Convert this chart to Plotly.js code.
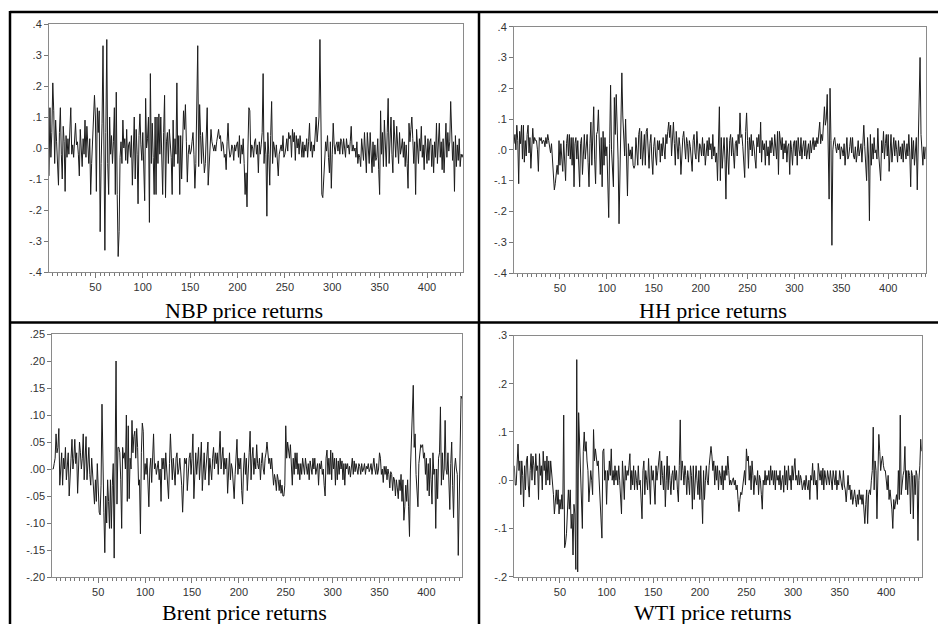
<!DOCTYPE html>
<html>
<head>
<meta charset="utf-8">
<script src="https://cdn.plot.ly/plotly-3.0.1.min.js"></script>
<style>
html,body{margin:0;padding:0;background:#fff;}
#chart{width:938px;height:624px;}
</style>
</head>
<body>
<div id="chart"></div>
<script>
// ---- Data ----
const nbpReturns = [
-.09,.13,-.03,.05,.21,.12,-.05,.09,.02,-.06,
-.12,.05,.13,-.02,-.10,.07,.02,-.14,.04,-.03,
.03,-.02,.06,.13,-.02,.01,-.03,.04,.08,.01,
.02,-.02,-.09,.06,-.01,-.06,.03,-.02,.09,-.03,
.07,-.02,-.05,.03,-.15,-.05,.02,.10,.17,.10,
-.14,.13,.05,.12,-.27,-.05,.08,.33,-.05,-.33,
.05,.35,-.05,-.15,.10,-.02,.04,-.05,.02,.13,
-.15,.18,-.15,-.35,-.27,-.03,.02,-.05,.09,.00,
.03,-.04,.06,-.05,.01,.02,-.03,.04,-.12,.03,
.10,-.10,.06,-.02,-.18,.04,.11,.01,-.04,.05,
-.05,-.17,.16,.00,.03,.10,-.24,.24,-.05,.08,
-.03,-.15,.10,-.15,.10,-.05,.11,-.02,.10,-.05,
-.15,.05,.17,-.16,.02,.05,-.05,.06,.01,-.03,
-.15,.09,-.06,.03,-.02,.21,-.05,.04,-.15,.04,
-.10,.04,.12,.06,.14,.02,-.11,-.02,.01,-.02,
-.01,.02,.05,-.02,-.13,-.05,.10,.33,-.06,.14,
.04,-.05,.05,-.02,-.08,-.05,.03,.13,-.12,-.05,
-.02,.06,.02,.00,-.01,.01,-.01,.02,.04,.06,
.03,.04,-.01,.02,.01,-.03,-.02,-.07,.02,.08,
.00,-.03,-.02,.01,.00,-.04,.01,-.01,.01,.02,
-.03,.04,-.05,.01,-.02,.03,-.05,-.15,-.08,-.19,
.00,.13,.12,-.03,.01,.00,-.03,.02,.03,-.02,
.01,-.08,.02,-.02,.01,.05,.24,-.05,.02,-.02,
-.22,.05,-.02,-.12,.04,.15,-.05,.02,.00,-.03,
.01,-.04,-.09,-.02,.00,.01,-.01,.04,-.03,-.02,
.00,.03,-.01,.05,.03,.04,-.03,.06,.02,.05,
-.04,.04,.00,.03,-.02,.04,.01,-.03,.02,-.03,
.01,-.01,.03,-.03,.02,.08,-.01,.02,-.03,.01,
-.01,.03,.10,.02,.08,.10,.35,.00,-.15,-.16,
-.10,-.02,.02,-.01,.04,-.03,-.08,.02,-.13,-.02,
.08,.01,-.02,.01,.02,-.01,.02,-.02,.03,.02,
-.02,.03,.00,-.03,.03,.00,.01,-.02,.02,.07,
-.01,.01,-.01,.00,-.03,.02,-.05,-.02,-.03,-.06,
.03,-.02,-.04,.05,-.03,-.08,.05,.01,-.05,.05,
-.02,-.08,.02,-.06,.01,-.04,-.03,.03,-.07,-.15,
.12,-.02,.05,-.06,.09,.00,-.06,.05,.16,-.05,
.02,.10,-.02,-.08,.09,.02,-.03,.07,-.01,-.05,
.05,-.02,.00,.03,-.03,.02,-.06,.01,-.05,-.13,
.08,.02,.06,.10,.03,-.05,.02,-.15,.06,-.02,
-.05,.03,-.01,.07,-.03,.01,-.07,.04,-.02,-.05,
.03,-.04,.02,.03,-.06,.01,-.08,.02,-.03,.08,
-.05,.02,.08,-.03,.02,-.07,.03,-.08,.01,.08,
-.03,.05,-.01,.02,.15,.02,-.04,.02,-.14,.04,
-.06,.01,-.04,.03,-.06,-.02,-.03,-.02
];

const hhReturns = [
.02,.05,.00,.08,.03,-.11,.06,.02,.08,-.03,
.08,-.04,.03,-.02,.05,.08,-.01,.04,-.06,.03,
.07,.02,.04,.03,.03,.00,-.07,.04,.03,.04,
.02,.03,.03,.01,.04,.02,.05,.03,.00,-.01,
.02,-.03,-.08,-.13,-.11,-.07,-.05,-.08,.03,-.05,
.02,-.03,-.07,.03,-.02,-.10,.02,.05,-.02,.05,
-.03,.04,-.05,.04,-.12,.02,.04,-.03,.03,-.06,
-.12,.02,.04,-.08,.01,.05,-.03,.02,.05,-.04,
-.12,.02,.09,-.05,.04,.14,-.03,-.11,.05,.06,
.13,-.03,-.08,.04,-.12,.06,-.05,.04,-.02,.01,
-.11,-.22,.02,.21,.00,-.06,-.12,.17,.05,.18,
.10,-.03,-.24,-.05,.03,.25,.11,.04,-.02,.10,
-.05,-.15,.02,-.02,.00,-.03,.01,-.05,-.06,-.05,
.04,-.01,-.05,.05,.07,-.03,.06,-.05,.02,.05,
-.05,.06,.07,.01,-.06,.02,.05,-.03,-.08,.01,
.04,-.02,-.05,.03,.00,.03,-.04,.02,-.02,.04,
.01,-.03,.05,.02,.06,.09,.04,.08,-.02,.03,
.09,.02,-.05,.06,.01,-.03,.04,.01,-.08,.01,
.04,.06,.00,-.03,.04,.02,-.04,.03,.01,-.05,
-.07,.03,.05,-.01,-.03,.06,.00,-.04,.02,.01,
-.02,.04,-.02,.02,-.05,.01,.03,-.02,.04,.00,
.02,-.03,.05,-.02,.01,-.04,-.01,-.10,.05,.14,
-.10,.04,-.06,.02,.04,-.03,-.16,.04,-.02,-.08,
.03,.05,-.02,.04,-.01,-.06,.02,.03,-.02,.05,
.02,.12,.04,.05,.01,-.04,-.09,.06,.12,.03,
-.06,.04,.00,.05,-.02,.03,.01,-.03,-.06,.04,
.01,.05,-.01,.09,-.04,.03,.00,.02,-.05,.03,
-.02,.01,-.05,.03,-.01,.04,.01,-.02,.05,.02,
-.03,.06,-.08,.06,.02,.00,.04,-.03,.02,-.01,
.03,-.04,.01,.02,-.08,.03,.00,-.05,.02,.03,
-.02,.03,-.05,.04,.00,-.02,.04,-.03,.01,.03,
-.02,.03,-.03,.01,.02,-.03,.03,-.01,.02,.04,
.00,.03,.01,.04,.02,.05,.09,.02,.05,.03,
.10,.14,.08,.10,.18,-.05,-.16,.20,.03,-.31,
.00,.03,.04,.01,-.01,.02,.00,.02,-.03,.01,
.00,-.02,.02,-.05,-.01,.04,-.03,-.02,.01,.04,
-.01,.04,-.02,-.03,.01,-.04,-.01,.03,-.02,.00,
.02,-.04,.03,.08,.01,-.05,-.10,.04,-.02,-.23,
.05,-.05,.02,-.03,.04,-.01,.00,-.03,.07,-.02,
-.06,-.10,.03,-.01,.06,-.03,.02,.05,-.02,.05,
-.07,.01,.05,-.04,.00,.04,-.02,.03,.00,-.04,
.03,-.02,.01,-.03,.02,-.04,.03,-.01,-.03,.02,
-.02,.05,-.01,-.12,.04,-.03,.03,-.05,.02,.04,
-.13,.02,.12,.30,.05,-.02,-.05,.01,-.03,.01
];

const brentReturns = [
.00,.00,.01,.02,.065,.03,.04,.075,-.03,.01,
.03,-.03,.02,.00,.04,-.02,.01,.03,-.05,.00,
.02,.055,.00,.02,.055,.01,.03,-.045,.01,.05,
.03,.00,.02,.065,-.02,.03,.06,-.02,.01,.04,
-.01,-.03,.02,-.01,-.04,-.065,-.02,-.06,.01,-.03,
-.08,-.085,-.03,.12,-.02,-.08,-.155,-.05,-.10,-.02,
-.06,-.11,-.02,-.11,-.03,.01,-.165,.00,.20,-.065,
.04,.04,.03,-.02,-.11,.04,.02,.03,.00,.10,
-.06,.08,-.055,.02,.00,.09,.03,.06,.07,.02,
.075,.04,-.03,-.02,-.12,.03,.085,.07,-.02,.01,
-.01,.02,-.03,-.07,.00,.02,-.025,.01,.065,.00,
.01,-.01,.00,.015,-.02,.00,-.06,.02,.00,.02,
-.02,.03,.00,-.03,-.055,.01,.065,.02,-.02,.02,
.00,-.03,.02,.03,-.01,.00,.02,.00,-.03,-.08,
.00,.02,.01,.02,-.04,.00,.02,.03,-.01,.02,
.065,-.055,.00,.03,-.01,.02,.04,-.02,.01,.05,
-.04,.01,.03,-.02,.00,.02,.05,-.03,.02,.00,
-.02,.02,.04,.00,.03,.01,.03,-.01,.02,.07,
.00,.03,.04,-.01,.02,.00,.02,-.045,.01,.03,
-.02,.01,.00,-.03,-.055,-.01,.02,.055,-.01,.02,
.00,.02,-.04,-.065,.00,.03,-.01,.02,-.04,.01,
.03,.07,-.02,.02,.04,-.01,.02,.00,.045,.01,
.00,.02,-.02,.01,.03,.00,-.01,.02,.03,.05,
.03,.01,.02,.00,.02,-.01,-.03,-.01,-.02,-.04,
-.01,-.02,-.04,-.02,-.045,-.03,-.05,-.05,-.03,.08,
.02,.05,.03,.02,.045,.00,-.03,.02,-.01,.03,
.00,.03,-.01,.01,-.02,.01,-.01,.02,.00,-.01,
.02,.00,-.01,.01,-.02,.015,.00,-.01,.02,.00,
.02,-.01,.00,.01,-.03,.01,.00,.015,-.01,.00,
-.03,-.05,.02,.035,-.01,.02,-.01,.035,-.02,.03,
.00,.02,-.03,.02,-.02,.015,-.01,.02,.00,.015,
-.02,.01,-.03,.01,.00,.01,-.01,.005,-.015,.01,
.02,-.01,.015,-.005,.01,.00,-.01,.01,.005,-.01,
.01,-.005,.00,.01,-.01,.005,.00,.01,-.005,.00,
.01,-.01,.005,.02,.00,-.01,.01,-.01,.00,.03,
.02,-.01,.00,-.025,.005,-.01,.005,-.02,.00,-.01,
-.035,-.005,-.01,-.04,-.015,-.02,-.05,-.02,-.035,-.055,
-.02,-.04,-.01,-.06,-.02,-.095,-.07,-.03,-.06,-.02,
-.07,-.125,.00,.05,.07,.155,.04,.065,-.01,-.04,
-.07,.01,.03,.045,.04,.045,.02,.03,-.01,.02,
-.04,.01,-.05,.02,-.02,-.065,.03,-.01,.00,-.11,
.00,-.055,.02,.03,.115,-.03,.03,-.02,.00,.09,
.00,-.01,.03,-.02,-.075,.01,.05,-.03,-.09,.00,
.02,.00,-.01,-.16,-.04,.05,.135,.13
];

const wtiReturns = [
.03,-.01,-.01,.04,.075,.02,.04,-.03,.04,.01,
-.055,.03,-.02,.04,.05,-.01,-.035,.02,.055,.00,
.05,.03,-.01,.055,.02,.03,-.04,.055,.01,.03,
-.02,.06,.02,.04,-.01,.05,.00,.04,-.01,.04,
.02,.00,-.03,-.07,-.04,-.02,-.05,-.02,-.07,-.04,
-.06,-.03,-.06,.135,-.14,-.13,-.11,-.05,-.02,-.06,
-.02,-.10,-.07,-.155,-.05,-.07,-.185,.25,-.19,.14,
.07,.04,-.02,-.10,.06,.10,.06,.08,.04,.02,
-.045,-.02,.02,.00,-.03,.105,.04,.065,.05,.03,
.04,.00,-.05,-.08,-.12,.06,.065,.00,.02,-.05,
.02,.00,.04,.01,.065,.00,.02,-.01,.03,.00,
.02,-.01,.03,.00,-.03,-.07,.04,.00,-.04,.03,
.00,.02,.01,.03,.055,-.02,.02,-.01,.03,-.02,
.02,.00,-.02,.03,-.01,.00,-.05,-.08,.02,.04,
-.03,.02,.00,-.02,.045,.01,-.05,.03,.00,.02,
-.01,-.05,.03,.00,.02,.04,.06,-.01,.04,.01,
-.02,.03,-.055,.00,.05,-.02,.03,.00,-.03,.01,
.02,-.02,.03,.00,.02,-.02,-.045,.03,.125,.00,
.04,.02,-.01,.03,.01,-.03,.02,.00,-.03,.03,
.01,-.06,.03,-.04,.01,.03,.00,-.03,.02,-.04,
.03,-.06,-.09,.02,-.04,.00,.03,.00,-.01,.03,
.05,.07,.05,.02,.04,-.01,.03,.00,.03,-.02,
.02,.01,-.01,.03,-.02,.02,.00,.03,.01,.05,
.02,-.01,.00,-.01,.00,.005,-.01,.00,-.02,-.01,
-.04,-.065,-.04,-.025,-.03,-.01,.00,.02,-.01,.065,
.04,.05,.00,.03,-.02,.04,.01,-.03,.01,.00,
-.01,.02,-.03,.01,.00,-.03,-.06,.00,-.01,.02,
-.01,.01,.00,.02,-.01,.03,.00,.02,-.01,.02,
-.02,.02,.00,.01,-.01,.02,-.02,.00,.01,-.025,
.03,-.01,.02,-.02,.03,.00,.01,-.02,.03,.00,
.02,.045,.00,.01,-.01,.02,-.01,.01,.00,-.02,
-.01,.00,-.02,.01,-.01,-.02,.00,-.04,.01,.00,
.035,-.01,.02,-.01,.00,-.04,.035,.02,.00,.02,
-.01,.025,-.02,.02,.00,-.01,.02,.00,-.01,.02,
.00,-.02,.02,.00,-.01,.02,-.02,.00,-.01,.02,
.00,-.01,-.02,.02,-.01,-.02,-.045,-.01,.01,-.02,
-.01,-.04,-.02,-.05,-.03,-.02,-.04,-.055,-.03,-.05,
-.02,-.04,-.03,-.05,-.03,-.06,-.09,-.05,-.02,-.09,
-.03,-.02,-.03,.00,.02,.11,-.02,.04,.02,-.08,
.03,.095,.06,.02,.04,.05,.03,.02,.02,.00,
-.02,.01,-.04,-.02,-.04,-.06,-.10,-.04,-.06,-.04,
-.03,-.05,.02,-.04,.135,-.03,.00,.01,.02,.07,
-.02,.02,-.03,.02,.01,-.07,.02,.01,-.08,.01,
-.03,.02,.01,-.125,.00,.03,.085,.06
];

const xTickVals = [50,100,150,200,250,300,350,400];
const xTickText = ["50","100","150","200","250","300","350","400"];
const yTickVals4 = [-.4,-.3,-.2,-.1,0,.1,.2,.3,.4];
const yTickText4 = ["-.4","-.3","-.2","-.1",".0",".1",".2",".3",".4"];
const yTickValsBrent = [-.20,-.15,-.10,-.05,0,.05,.10,.15,.20,.25];
const yTickTextBrent = ["-.20","-.15","-.10","-.05",".00",".05",".10",".15",".20",".25"];
const yTickValsWti = [-.2,-.1,0,.1,.2,.3];
const yTickTextWti = ["-.2","-.1",".0",".1",".2",".3"];
const panelTitles = ["NBP price returns","HH price returns","Brent price returns","WTI price returns"];

// ---- Layout helpers ----
const W = 938, H = 624;
const px = v => v / W;
const py = v => 1 - v / H;
const tickFont = {family: "Liberation Sans, Arial, sans-serif", size: 11, color: "#333"};

function xAxis(l, r, n, anchor) {
  return {
    domain: [px(l), px(r)], range: [1, n], anchor: anchor,
    showline: true, mirror: true, linecolor: "#8a8a8a", linewidth: 1,
    showgrid: false, zeroline: false,
    ticks: "outside", ticklen: 5, tickwidth: 1, tickcolor: "#777",
    tickvals: xTickVals, ticktext: xTickText, tickfont: tickFont,
    minor: {dtick: 5, tick0: 0, ticks: "outside", ticklen: 3, tickwidth: 1, tickcolor: "#777", showgrid: false}
  };
}
function yAxis(t, b, range, vals, text, anchor) {
  return {
    domain: [py(b), py(t)], range: range, anchor: anchor,
    showline: true, mirror: true, linecolor: "#8a8a8a", linewidth: 1,
    showgrid: false, zeroline: false,
    ticks: "outside", ticklen: 4, tickwidth: 1, tickcolor: "#777",
    tickvals: vals, ticktext: text, tickfont: tickFont
  };
}
function series(y, xa, ya) {
  return {
    x: y.map((_, i) => i + 1), y: y, xaxis: xa, yaxis: ya,
    type: "scatter", mode: "lines",
    line: {color: "#1c1c1c", width: 1}, hoverinfo: "skip", showlegend: false
  };
}

const data = [
  series(nbpReturns, "x", "y"),
  series(hhReturns, "x2", "y2"),
  series(brentReturns, "x3", "y3"),
  series(wtiReturns, "x4", "y4")
];

const border = (x0, y0, x1, y1) => ({
  type: "line", xref: "paper", yref: "paper",
  x0: px(x0), y0: py(y0), x1: px(x1), y1: py(y1),
  line: {color: "#000", width: 2.5}
});
const caption = (text, cx, cy) => ({
  text: text, xref: "paper", yref: "paper", x: px(cx), y: py(cy),
  xanchor: "center", yanchor: "middle", showarrow: false,
  font: {family: "Liberation Serif, Times New Roman, serif", size: 22, color: "#000"}
});

const layout = {
  width: W, height: H,
  margin: {l: 0, r: 0, t: 0, b: 0},
  paper_bgcolor: "#fff", plot_bgcolor: "#fff",
  showlegend: false,
  xaxis:  xAxis(49, 463, 438, "y"),
  yaxis:  yAxis(24, 272, [-.4, .4], yTickVals4, yTickText4, "x"),
  xaxis2: xAxis(514, 925.7, 440, "y2"),
  yaxis2: yAxis(26.7, 273, [-.4, .4], yTickVals4, yTickText4, "x2"),
  xaxis3: xAxis(52.3, 462, 438, "y3"),
  yaxis3: yAxis(334, 577, [-.20, .25], yTickValsBrent, yTickTextBrent, "x3"),
  xaxis4: xAxis(514.3, 921.7, 438, "y4"),
  yaxis4: yAxis(335.5, 576.7, [-.2, .3], yTickValsWti, yTickTextWti, "x4"),
  shapes: [
    border(10, 12, 938, 12),
    border(10, 322.5, 938, 322.5),
    border(10, 11, 10, 624),
    border(479, 11, 479, 624)
  ],
  annotations: [
    caption(panelTitles[0], 244, 310),
    caption(panelTitles[1], 713, 310),
    caption(panelTitles[2], 244, 612),
    caption(panelTitles[3], 713, 612)
  ]
};

Plotly.newPlot("chart", data, layout, {staticPlot: true, displayModeBar: false});
</script>
</body>
</html>
